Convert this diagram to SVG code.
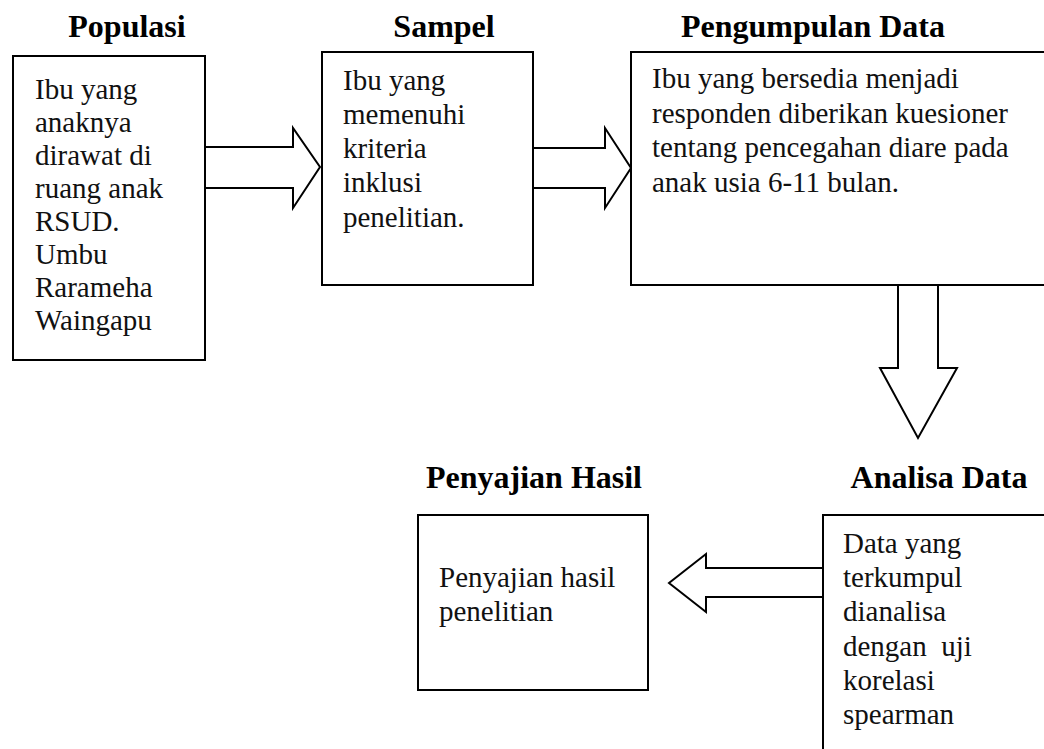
<svg xmlns="http://www.w3.org/2000/svg" width="1044" height="749" viewBox="0 0 1044 749">
<style>
.box{fill:#fff;stroke:#000;stroke-width:2}
.arr{fill:#fff;stroke:#000;stroke-width:2;stroke-linejoin:miter}
.t{font-family:"Liberation Serif","Times New Roman",serif;font-size:29px;fill:#111}
.h{font-family:"Liberation Serif","Times New Roman",serif;font-size:32px;font-weight:bold;fill:#000;text-anchor:middle}
</style>
<rect width="1044" height="749" fill="#fff"/>
<g id="connectors">
<path class="arr" d="M205,147 H293 V128 L320,167 L293,208 V188 H205"/>
<path class="arr" d="M533,148 H605 V128 L631,168 L605,208 V188 H533"/>
<path class="arr" d="M898,285 V368 H880 L918,438 L957,368 H938 V285"/>
<path class="arr" d="M823,568 H706 V554 L669,583 L706,612 V597 H823"/>
</g>
<g id="populasi">
<text class="h" x="127" y="37">Populasi</text>
<rect class="box" x="13" y="56" width="192" height="304"/>
<text class="t" x="35" y="99">Ibu yang</text>
<text class="t" x="35" y="132">anaknya</text>
<text class="t" x="35" y="165">dirawat di</text>
<text class="t" x="35" y="198">ruang anak</text>
<text class="t" x="35" y="231">RSUD.</text>
<text class="t" x="35" y="264">Umbu</text>
<text class="t" x="35" y="297">Rarameha</text>
<text class="t" x="35" y="330">Waingapu</text>
</g>
<g id="sampel">
<text class="h" x="444" y="37">Sampel</text>
<rect class="box" x="322" y="52" width="211" height="233"/>
<text class="t" x="343" y="90">Ibu yang</text>
<text class="t" x="343" y="124">memenuhi</text>
<text class="t" x="343" y="158">kriteria</text>
<text class="t" x="343" y="192">inklusi</text>
<text class="t" x="343" y="227">penelitian.</text>
</g>
<g id="pengumpulan">
<text class="h" x="813" y="37">Pengumpulan Data</text>
<rect class="box" x="631" y="52" width="430" height="233"/>
<text class="t" x="652" y="88">Ibu yang bersedia menjadi</text>
<text class="t" x="652" y="123">responden diberikan kuesioner</text>
<text class="t" x="652" y="157">tentang pencegahan diare pada</text>
<text class="t" x="652" y="192">anak usia 6-11 bulan.</text>
</g>
<g id="analisa">
<text class="h" x="939" y="488">Analisa Data</text>
<rect class="box" x="823" y="515" width="240" height="250"/>
<text class="t" x="843" y="553">Data yang</text>
<text class="t" x="843" y="587">terkumpul</text>
<text class="t" x="843" y="621">dianalisa</text>
<text class="t" x="843" y="656" xml:space="preserve">dengan  uji</text>
<text class="t" x="843" y="690">korelasi</text>
<text class="t" x="843" y="724">spearman</text>
</g>
<g id="penyajian">
<text class="h" x="534" y="488">Penyajian Hasil</text>
<rect class="box" x="418" y="515" width="230" height="175"/>
<text class="t" x="439" y="587">Penyajian hasil</text>
<text class="t" x="439" y="621">penelitian</text>
</g>
</svg>
